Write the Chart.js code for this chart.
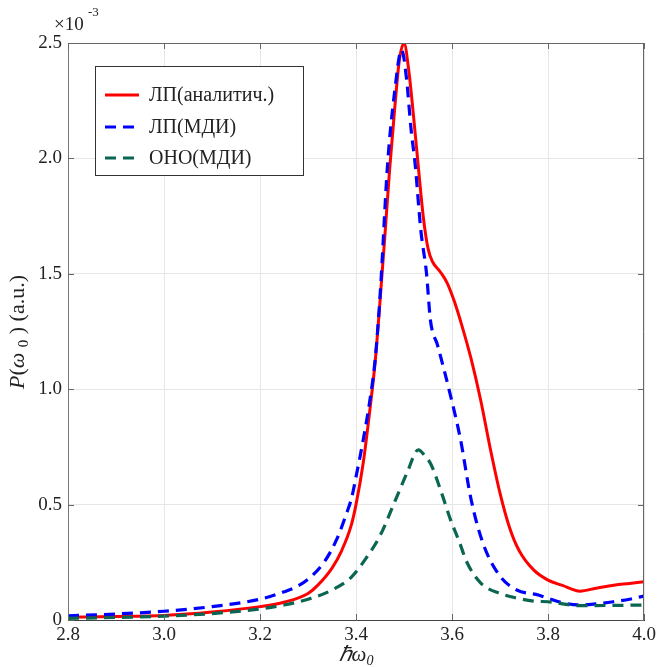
<!DOCTYPE html>
<html>
<head>
<meta charset="utf-8">
<script src="https://cdn.jsdelivr.net/npm/chart.js@4"></script>
<style>
  html, body { margin: 0; padding: 0; background: #fff; }
  #wrap { width: 660px; height: 667px; position: relative; }
</style>
</head>
<body>
<div id="wrap"><canvas id="chart" width="660" height="667"></canvas></div>
<script>
// values in units of 1e-3
const xAnalytic = [2.80, 2.90, 3.00, 3.10, 3.20, 3.25, 3.30, 3.32, 3.35, 3.37, 3.39, 3.40, 3.415, 3.43, 3.44, 3.45, 3.46, 3.47, 3.48, 3.49, 3.50,
  3.51, 3.52, 3.53, 3.54, 3.55, 3.56, 3.575, 3.59, 3.605, 3.62, 3.64, 3.66, 3.68, 3.70, 3.72, 3.74, 3.77, 3.80, 3.83, 3.867, 3.90, 3.94, 3.97, 4.00];
const yAnalytic = [0.012, 0.015, 0.020, 0.035, 0.058, 0.077, 0.115, 0.150, 0.225, 0.300, 0.410, 0.500, 0.680, 0.930, 1.120, 1.380, 1.660, 1.950, 2.200, 2.420, 2.500,
  2.380, 2.180, 1.960, 1.750, 1.610, 1.550, 1.510, 1.460, 1.380, 1.280, 1.130, 0.950, 0.740, 0.550, 0.400, 0.300, 0.217, 0.173, 0.150, 0.125, 0.138, 0.152, 0.158, 0.166];

const xLpMdi = [2.80, 2.90, 3.00, 3.10, 3.20, 3.25, 3.283, 3.31, 3.335, 3.36, 3.38, 3.391, 3.40, 3.415, 3.429, 3.44, 3.45, 3.466, 3.48, 3.495,
  3.505, 3.515, 3.523, 3.535, 3.547, 3.555, 3.57, 3.596, 3.617, 3.64, 3.665, 3.70, 3.735, 3.78, 3.80, 3.83, 3.867, 3.90, 3.936, 3.97, 4.00];
const yLpMdi = [0.018, 0.026, 0.038, 0.058, 0.090, 0.122, 0.152, 0.195, 0.255, 0.350, 0.460, 0.530, 0.620, 0.780, 0.953, 1.130, 1.400, 1.980, 2.280, 2.470,
  2.350, 2.120, 1.980, 1.690, 1.500, 1.300, 1.190, 0.980, 0.790, 0.520, 0.330, 0.190, 0.130, 0.108, 0.094, 0.075, 0.065, 0.070, 0.079, 0.090, 0.104];

const xOnoMdi = [2.80, 2.90, 3.00, 3.10, 3.20, 3.25, 3.30, 3.35, 3.39, 3.42, 3.45, 3.485, 3.506, 3.53, 3.542, 3.556, 3.58, 3.596, 3.615, 3.631,
  3.66, 3.70, 3.735, 3.77, 3.80, 3.867, 3.93, 4.00];
const yOnoMdi = [0.007, 0.011, 0.017, 0.028, 0.048, 0.065, 0.090, 0.130, 0.185, 0.265, 0.365, 0.534, 0.636, 0.737, 0.715, 0.675, 0.540, 0.440, 0.340, 0.250,
  0.160, 0.115, 0.095, 0.082, 0.079, 0.062, 0.063, 0.065];

const xTicks = [2.8, 3.0, 3.2, 3.4, 3.6, 3.8, 4.0];
const yTicks = [0, 0.5, 1.0, 1.5, 2.0, 2.5];

const seriesLabels = ["ЛП(аналитич.)", "ЛП(МДИ)", "ОНО(МДИ)"];
const FONT = "'Liberation Serif', 'Times New Roman', serif";

function pts(xs, ys) {
    return xs.map((x, i) => ({ x: x, y: ys[i] }));
}

const decor = {
    id: "decor",
    afterDraw(chart) {
        const ctx = chart.ctx;
        const a = chart.chartArea;
        const xs = chart.scales.x;
        const ys = chart.scales.y;
        ctx.save();

        // box + inward ticks
        ctx.strokeStyle = "#666";
        ctx.lineWidth = 1;
        ctx.beginPath();
        ctx.moveTo(a.left, a.top + 0.5);
        ctx.lineTo(a.right - 0.5, a.top + 0.5);
        ctx.lineTo(a.right - 0.5, a.bottom);
        xTicks.forEach(v => {
            const px = Math.round(xs.getPixelForValue(v)) + 0.5;
            ctx.moveTo(px, a.bottom);
            ctx.lineTo(px, a.bottom - 6);
            ctx.moveTo(px, a.top);
            ctx.lineTo(px, a.top + 6);
        });
        yTicks.forEach(v => {
            const py = Math.round(ys.getPixelForValue(v)) + 0.5;
            ctx.moveTo(a.left, py);
            ctx.lineTo(a.left + 6, py);
            ctx.moveTo(a.right, py);
            ctx.lineTo(a.right - 6, py);
        });
        ctx.stroke();

        // legend
        const lx = 95.5, ly = 66.5, lw = 208, lh = 109;
        ctx.fillStyle = "#fff";
        ctx.fillRect(lx, ly, lw, lh);
        ctx.strokeStyle = "#333";
        ctx.strokeRect(lx, ly, lw, lh);
        const rows = [95, 127, 158];
        [0, 1, 2].forEach((di, i) => {
            const ds = chart.data.datasets[di];
            ctx.beginPath();
            ctx.strokeStyle = ds.borderColor;
            ctx.lineWidth = ds.borderWidth;
            ctx.setLineDash(ds.borderDash || []);
            ctx.moveTo(105, rows[i]);
            ctx.lineTo(139, rows[i]);
            ctx.stroke();
            ctx.setLineDash([]);
            ctx.fillStyle = "#222";
            ctx.font = "20px " + FONT;
            ctx.textBaseline = "middle";
            ctx.textAlign = "left";
            ctx.fillText(ds.label, 149, rows[i] + 1);
        });

        // exponent
        ctx.fillStyle = "#222";
        ctx.textBaseline = "alphabetic";
        ctx.font = "19px " + FONT;
        ctx.fillText("×10", 54, 30);
        ctx.font = "13px " + FONT;
        ctx.fillText("-3", 88, 16);

        // x title: ℏω0
        ctx.font = "italic 21px " + FONT;
        let w1 = ctx.measureText("ℏω").width;
        ctx.font = "italic 14px " + FONT;
        let w2 = ctx.measureText("0").width;
        let sx = (a.left + a.right) / 2 - (w1 + w2) / 2;
        ctx.font = "italic 21px " + FONT;
        ctx.fillText("ℏω", sx, 661);
        ctx.font = "italic 14px " + FONT;
        ctx.fillText("0", sx + w1, 665);

        // y title: P(ω 0 ) (a.u.)
        ctx.translate(24, 332);
        ctx.rotate(-Math.PI / 2);
        const parts = [
            ["italic 22px ", "P", 0],
            ["22px ", "(", 0],
            ["italic 22px ", "ω ", 0],
            ["15px ", "0", 4],
            ["22px ", " ) (a.u.)", 0]
        ];
        let total = 0;
        parts.forEach(p => { ctx.font = p[0] + FONT; total += ctx.measureText(p[1]).width; });
        let cx = -total / 2;
        parts.forEach(p => {
            ctx.font = p[0] + FONT;
            ctx.fillText(p[1], cx, p[2]);
            cx += ctx.measureText(p[1]).width;
        });
        ctx.restore();
    }
};

new Chart(document.getElementById("chart"), {
    type: "line",
    data: {
        datasets: [
            {
                label: seriesLabels[0],
                data: pts(xAnalytic, yAnalytic),
                borderColor: "#ff0000",
                borderWidth: 3,
                order: 3,
            },
            {
                label: seriesLabels[1],
                data: pts(xLpMdi, yLpMdi),
                borderColor: "#0000ff",
                borderWidth: 3.2,
                borderDash: [11, 7],
                order: 2,
            },
            {
                label: seriesLabels[2],
                data: pts(xOnoMdi, yOnoMdi),
                borderColor: "#0a6650",
                borderWidth: 3.2,
                borderDash: [11, 7],
                order: 1,
            },
        ],
    },
    options: {
        responsive: false,
        animation: false,
        devicePixelRatio: 1,
        layout: { padding: { left: 0, top: 43, right: 16, bottom: 0 } },
        elements: {
            point: { radius: 0 },
            line: { cubicInterpolationMode: "monotone", fill: false },
        },
        plugins: {
            legend: { display: false },
            tooltip: { enabled: false },
        },
        scales: {
            x: {
                type: "linear",
                min: 2.8,
                max: 4.0,
                afterBuildTicks: s => { s.ticks = xTicks.map(v => ({ value: v })); },
                afterFit: s => { s.height = 47; },
                grid: { color: "#e6e6e6", drawTicks: false },
                border: { color: "#444", width: 1 },
                ticks: {
                    color: "#222",
                    padding: 4,
                    font: { family: FONT, size: 19 },
                    callback: v => v.toFixed(1),
                    maxRotation: 0,
                },
            },
            y: {
                min: 0,
                max: 2.5,
                afterBuildTicks: s => { s.ticks = yTicks.map(v => ({ value: v })); },
                afterFit: s => { s.width = 68; },
                grid: { color: "#e6e6e6", drawTicks: false },
                border: { color: "#777", width: 1 },
                ticks: {
                    color: "#222",
                    padding: 6,
                    font: { family: FONT, size: 19 },
                    callback: v => (v === 0 ? "0" : v.toFixed(1)),
                },
            },
        },
    },
    plugins: [decor],
});
</script>
</body>
</html>
